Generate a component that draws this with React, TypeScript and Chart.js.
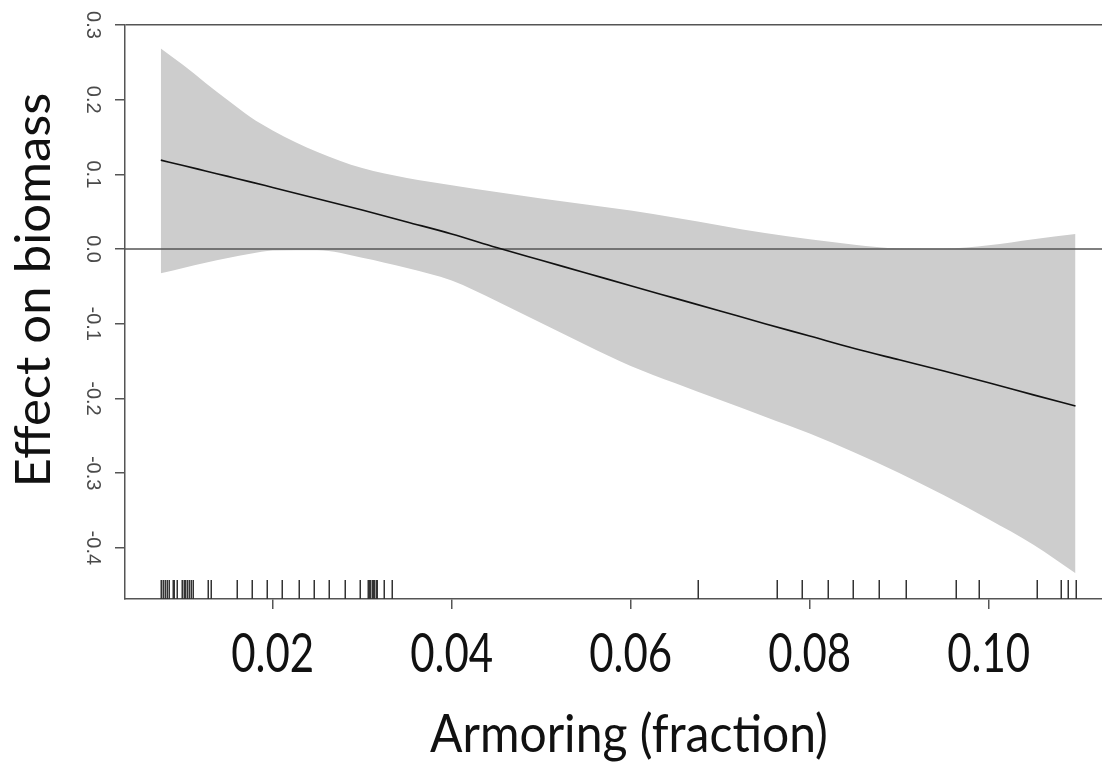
import React, { useEffect, useRef } from "react";
import { Chart, registerables } from "chart.js";

Chart.register(...registerables);

// Axis ranges
const X_MIN = 0.0035;
const X_MAX = 0.11266;
const Y_MIN = -0.4685;
const Y_MAX = 0.3;

// Tick values
const X_TICKS = [0.02, 0.04, 0.06, 0.08, 0.1];
const Y_TICKS = [-0.4, -0.3, -0.2, -0.1, 0.0, 0.1, 0.2, 0.3];

// Smooth-term x grid
const GRID_X = [
  0.0075, 0.01, 0.0125, 0.015, 0.0175, 0.02, 0.025, 0.03, 0.035, 0.04, 0.045, 0.05,
  0.055, 0.06, 0.065, 0.07, 0.075, 0.08, 0.085, 0.09, 0.095, 0.1, 0.105, 0.1097,
];
// Fitted effect
const FIT = [
  0.1191, 0.1119, 0.1046, 0.0973, 0.09, 0.0825, 0.0675, 0.0523, 0.0363, 0.0203, 0.0021, -0.015,
  -0.032, -0.0491, -0.066, -0.0829, -0.0999, -0.1165, -0.1332, -0.1483, -0.1633, -0.179, -0.1952, -0.2102,
];
// Upper confidence bound
const UPPER = [
  0.2687, 0.2463, 0.2225, 0.1993, 0.1769, 0.1589, 0.13, 0.1084, 0.095, 0.0854, 0.0764, 0.0676,
  0.0596, 0.0515, 0.0419, 0.0317, 0.0214, 0.013, 0.0059, 0.001, 0.0007, 0.0051, 0.0133, 0.0201,
];
// Lower confidence bound
const LOWER = [
  -0.0325, -0.0254, -0.0183, -0.0119, -0.0064, -0.002, -0.0015, -0.0115, -0.0254, -0.0422, -0.0696, -0.0991,
  -0.1285, -0.1566, -0.1798, -0.2022, -0.2246, -0.247, -0.2724, -0.2999, -0.3297, -0.3616, -0.3958, -0.4341,
];
// Rug (observed armoring fractions)
const RUG_X = [
  0.00748, 0.00771, 0.00796, 0.00819, 0.00841, 0.00886, 0.009, 0.00931, 0.00986, 0.01005, 0.0102, 0.01042,
  0.01065, 0.01087, 0.01113, 0.01274, 0.01307, 0.01598, 0.01772, 0.01939, 0.02107, 0.0229, 0.02458, 0.02626,
  0.02804, 0.02972, 0.03061, 0.03076, 0.0309, 0.03106, 0.0312, 0.03135, 0.03151, 0.03169, 0.0324, 0.03336,
  0.06748, 0.07631, 0.07914, 0.08201, 0.08484, 0.08778, 0.09072, 0.09631, 0.09895, 0.10539, 0.10804, 0.10889,
  0.10972,
];
const REF_LINE_Y = 0;

const X_TITLE = "Armoring (fraction)";
const Y_TITLE = "Effect on biomass";

const AXIS_COLOR = "#555555";
const BAND_COLOR = "#cdcdcd";
const TEXT_COLOR = "#111111";

const fmtX = (v: number) => v.toFixed(2);
const fmtY = (v: number) => v.toFixed(1);

const rugPlugin = {
  id: "rug",
  afterDatasetsDraw(chart: any) {
    const { ctx, chartArea, scales } = chart;
    const xs = scales.x;
    ctx.save();
    ctx.strokeStyle = "#333333";
    ctx.lineWidth = 1.5;
    ctx.beginPath();
    for (const v of RUG_X) {
      const px = Math.round(xs.getPixelForValue(v)) + 0.25;
      ctx.moveTo(px, chartArea.bottom);
      ctx.lineTo(px, chartArea.bottom - 19);
    }
    ctx.stroke();
    ctx.restore();
  },
};

// Draws the x tick labels (tall, narrow lettering as in the figure) and the axis titles
const textPlugin = {
  id: "stretchedText",
  afterDraw(chart: any) {
    const { ctx, scales, chartArea } = chart;
    const xs = scales.x;
    ctx.save();
    ctx.fillStyle = TEXT_COLOR;
    ctx.textAlign = "center";
    ctx.textBaseline = "alphabetic";

    // x tick labels
    ctx.font = "42px Lato";
    for (const v of X_TICKS) {
      const px = xs.getPixelForValue(v);
      ctx.save();
      ctx.translate(px, chartArea.bottom + 73);
      ctx.scale(1, 1.3);
      ctx.fillText(fmtX(v), 0, 0);
      ctx.restore();
    }

    // x title
    ctx.save();
    ctx.font = "48px Lato";
    ctx.translate(629, 752);
    ctx.scale(1, 1.1);
    ctx.fillText(X_TITLE, 0, 0);
    ctx.restore();

    // y title
    ctx.save();
    ctx.font = "48px Lato";
    ctx.translate(50, 290);
    ctx.rotate(-Math.PI / 2);
    ctx.scale(1.06, 1);
    ctx.fillText(Y_TITLE, 0, 0);
    ctx.restore();

    ctx.restore();
  },
};

export default function App() {
  const ref = useRef<HTMLCanvasElement | null>(null);

  useEffect(() => {
    if (!ref.current) return;
    const pts = (ys: number[]) => GRID_X.map((x, i) => ({ x, y: ys[i] }));
    const chart = new Chart(ref.current, {
      type: "line",
      data: {
        datasets: [
          {
            label: "fit",
            data: pts(FIT),
            borderColor: "#111111",
            borderWidth: 1.6,
            pointRadius: 0,
            fill: false,
            cubicInterpolationMode: "monotone",
          },
          {
            label: "zero",
            data: [
              { x: X_MIN, y: REF_LINE_Y },
              { x: X_MAX, y: REF_LINE_Y },
            ],
            borderColor: AXIS_COLOR,
            borderWidth: 1.5,
            pointRadius: 0,
            fill: false,
          },
          {
            label: "upper",
            data: pts(UPPER),
            borderWidth: 0,
            borderColor: "rgba(0,0,0,0)",
            backgroundColor: BAND_COLOR,
            pointRadius: 0,
            fill: "+1",
            cubicInterpolationMode: "monotone",
          },
          {
            label: "lower",
            data: pts(LOWER),
            borderWidth: 0,
            borderColor: "rgba(0,0,0,0)",
            pointRadius: 0,
            fill: false,
            cubicInterpolationMode: "monotone",
          },
        ],
      },
      options: {
        animation: false,
        responsive: false,
        maintainAspectRatio: false,
        layout: { padding: { top: 25, right: 0, left: 0, bottom: 0 } },
        plugins: { legend: { display: false }, tooltip: { enabled: false } },
        scales: {
          x: {
            type: "linear",
            min: X_MIN,
            max: X_MAX,
            afterBuildTicks: (s: any) => {
              s.ticks = X_TICKS.map((v) => ({ value: v }));
            },
            afterFit: (s: any) => {
              s.height = 165;
            },
            grid: {
              drawOnChartArea: false,
              drawTicks: true,
              tickLength: 10,
              tickColor: AXIS_COLOR,
              lineWidth: 1.5,
            },
            border: { display: true, color: AXIS_COLOR, width: 1.5 },
            ticks: {
              display: false,
              maxRotation: 0,
              minRotation: 0,
              callback: (v: any) => fmtX(Number(v)),
            },
          },
          y: {
            type: "linear",
            min: Y_MIN,
            max: Y_MAX,
            afterBuildTicks: (s: any) => {
              s.ticks = Y_TICKS.map((v) => ({ value: v }));
            },
            afterFit: (s: any) => {
              s.width = 125;
            },
            grid: {
              drawOnChartArea: true,
              drawTicks: true,
              tickLength: 10,
              tickColor: AXIS_COLOR,
              lineWidth: 1.5,
              color: (c: any) =>
                c.tick && Math.abs(c.tick.value - Y_MAX) < 1e-9 ? AXIS_COLOR : "rgba(0,0,0,0)",
            },
            border: { display: true, color: AXIS_COLOR, width: 1.5 },
            ticks: {
              padding: 5,
              minRotation: -90,
              maxRotation: 90,
              crossAlign: "center",
              color: "#4a4a4a",
              font: { family: "Arial, 'Liberation Sans', sans-serif", size: 20 },
              callback: (v: any) => fmtY(Number(v)),
            },
          },
        },
      },
      plugins: [rugPlugin, textPlugin],
    } as any);
    return () => chart.destroy();
  }, []);

  return (
    <div style={{ position: "fixed", left: 0, top: 0, width: 1102, height: 764, background: "#fff" }}>
      <canvas ref={ref} width={1102} height={764} style={{ display: "block" }} />
    </div>
  );
}
